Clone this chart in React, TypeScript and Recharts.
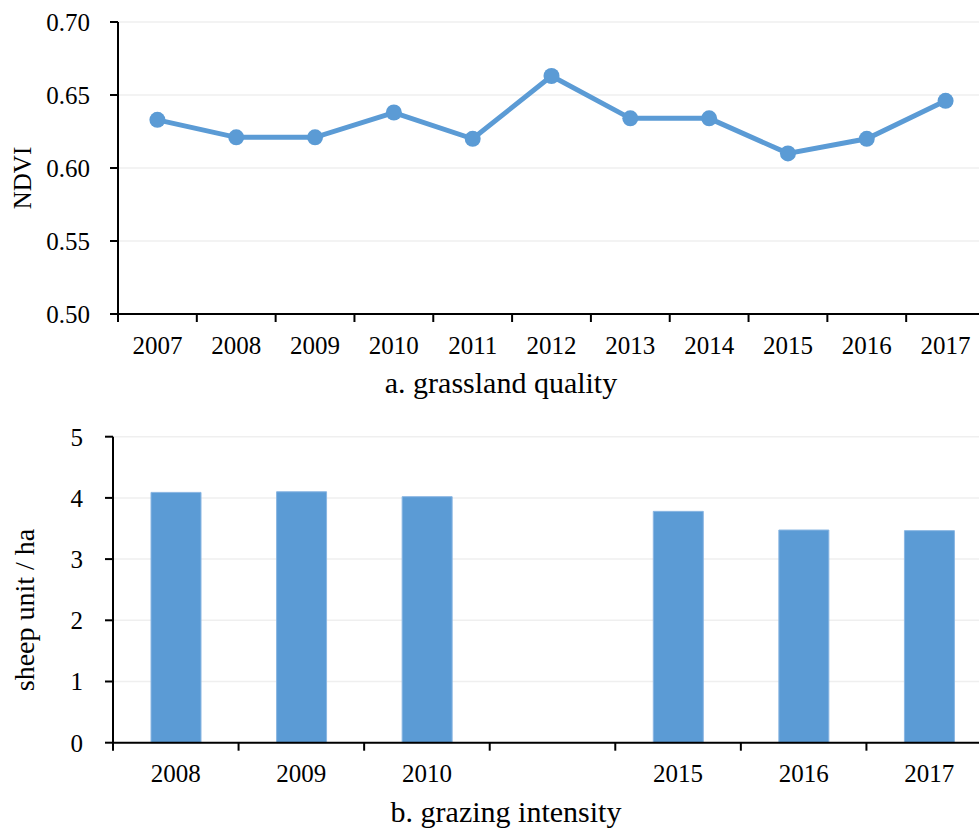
import React from 'react';
import { LineChart, Line, BarChart, Bar, XAxis, YAxis, CartesianGrid } from 'recharts';

// Panel a: grassland quality (NDVI)
const ndviYears = ['2007', '2008', '2009', '2010', '2011', '2012', '2013', '2014', '2015', '2016', '2017'];
const ndviValues = [0.633, 0.621, 0.621, 0.638, 0.620, 0.663, 0.634, 0.634, 0.610, 0.620, 0.646];
const ndviTicks = [0.5, 0.55, 0.6, 0.65, 0.7];

// Panel b: grazing intensity (sheep unit / ha); one empty slot separates 2010 and 2015
const grazingYears = ['2008', '2009', '2010', '', '2015', '2016', '2017'];
const grazingValues = [4.09, 4.1, 4.02, null, 3.78, 3.475, 3.465];
const grazingTicks = [0, 1, 2, 3, 4, 5];

const ndviData = ndviYears.map((year, i) => ({ year, ndvi: ndviValues[i] }));
const grazingData = grazingYears.map((year, i) => ({ year, value: grazingValues[i] }));

const FONT = "'Liberation Serif', 'Times New Roman', Times, 'DejaVu Serif', serif";
const BLUE = '#5B9BD5';
const TICK_SIZE = 8;
const TICK_MARGIN = 14;

const textStyle = { fontFamily: FONT };

// Category tick: label centred in the band, tick marks on the band boundaries
function BoundaryTick(props: any) {
  const { x, y, payload, index, visibleTicksCount, width } = props;
  const half =
    payload && typeof payload.offset === 'number' && payload.offset > 0
      ? payload.offset
      : width / visibleTicksCount / 2;
  const axisY = y - TICK_SIZE - TICK_MARGIN;
  const isLast = index === visibleTicksCount - 1;
  return (
    <g>
      <line x1={x - half} x2={x - half} y1={axisY} y2={axisY + TICK_SIZE} stroke="#000" strokeWidth={2} />
      {isLast && (
        <line x1={x + half} x2={x + half} y1={axisY} y2={axisY + TICK_SIZE} stroke="#000" strokeWidth={2} />
      )}
      <text x={x} y={y} dy="0.71em" textAnchor="middle" fontSize={25} style={textStyle} fill="#000">
        {payload.value}
      </text>
    </g>
  );
}

function ValueTick(props: any) {
  const { x, y, payload, digits } = props;
  const label = digits ? Number(payload.value).toFixed(digits) : String(payload.value);
  return (
    <text x={x} y={y} dy="0.355em" textAnchor="end" fontSize={25} style={textStyle} fill="#000">
      {label}
    </text>
  );
}

function Title({ x, y, text }: { x: number; y: number; text: string }) {
  return (
    <text x={x} y={y} textAnchor="middle" fontSize={30} style={textStyle} fill="#000">
      {text}
    </text>
  );
}

function VerticalLabel({ x, y, text, size }: { x: number; y: number; text: string; size: number }) {
  return (
    <text
      x={x}
      y={y}
      transform={`rotate(-90, ${x}, ${y})`}
      textAnchor="middle"
      fontSize={size}
      style={textStyle}
      fill="#000"
    >
      {text}
    </text>
  );
}

export default function App() {
  return (
    <div
      style={{
        position: 'fixed',
        left: 0,
        top: 0,
        width: 979,
        height: 830,
        overflow: 'hidden',
        background: '#fff',
        fontFamily: FONT,
      }}
    >
      <div style={{ position: 'absolute', left: 0, top: 0 }}>
        <LineChart
          width={985}
          height={400}
          data={ndviData}
          margin={{ top: 22, right: 0, left: 0, bottom: 0 }}
          style={textStyle}
        >
          <CartesianGrid vertical={false} stroke="#efefef" strokeWidth={1.5} />
          <XAxis
            dataKey="year"
            scale="band"
            height={86}
            axisLine={{ stroke: '#000', strokeWidth: 2 }}
            tickLine={false}
            tickSize={TICK_SIZE}
            tickMargin={TICK_MARGIN}
            interval={0}
            tick={<BoundaryTick />}
            label={{ content: () => <Title x={501} y={393} text="a. grassland quality" /> }}
          />
          <YAxis
            width={118}
            domain={[0.5, 0.7]}
            ticks={ndviTicks}
            interval={0}
            axisLine={{ stroke: '#000', strokeWidth: 2 }}
            tickLine={{ stroke: '#000', strokeWidth: 2 }}
            tickSize={TICK_SIZE}
            tickMargin={20}
            tick={<ValueTick digits={2} />}
            label={{ content: () => <VerticalLabel x={31} y={178} text="NDVI" size={25} /> }}
          />
          <Line
            type="linear"
            dataKey="ndvi"
            stroke={BLUE}
            strokeWidth={5}
            dot={{ r: 8, fill: BLUE, stroke: BLUE, strokeWidth: 0 }}
            activeDot={false}
            isAnimationActive={false}
          />
        </LineChart>
      </div>
      <div style={{ position: 'absolute', left: 0, top: 400 }}>
        <BarChart
          width={992}
          height={430}
          data={grazingData}
          margin={{ top: 36.7, right: 0, left: 0, bottom: 0 }}
          style={textStyle}
        >
          <CartesianGrid vertical={false} stroke="#efefef" strokeWidth={1.5} />
          <XAxis
            dataKey="year"
            height={87.3}
            axisLine={{ stroke: '#000', strokeWidth: 2 }}
            tickLine={false}
            tickSize={TICK_SIZE}
            tickMargin={TICK_MARGIN}
            interval={0}
            tick={<BoundaryTick />}
            label={{ content: () => <Title x={506} y={421.7} text="b. grazing intensity" /> }}
          />
          <YAxis
            width={113}
            domain={[0, 5]}
            ticks={grazingTicks}
            interval={0}
            axisLine={{ stroke: '#000', strokeWidth: 2 }}
            tickLine={{ stroke: '#000', strokeWidth: 2 }}
            tickSize={TICK_SIZE}
            tickMargin={22}
            tick={<ValueTick />}
            label={{ content: () => <VerticalLabel x={34} y={210} text="sheep unit / ha" size={28} /> }}
          />
          <Bar dataKey="value" fill={BLUE} stroke="#8ab6e2" strokeWidth={1} barSize={50} isAnimationActive={false} />
        </BarChart>
      </div>
    </div>
  );
}
